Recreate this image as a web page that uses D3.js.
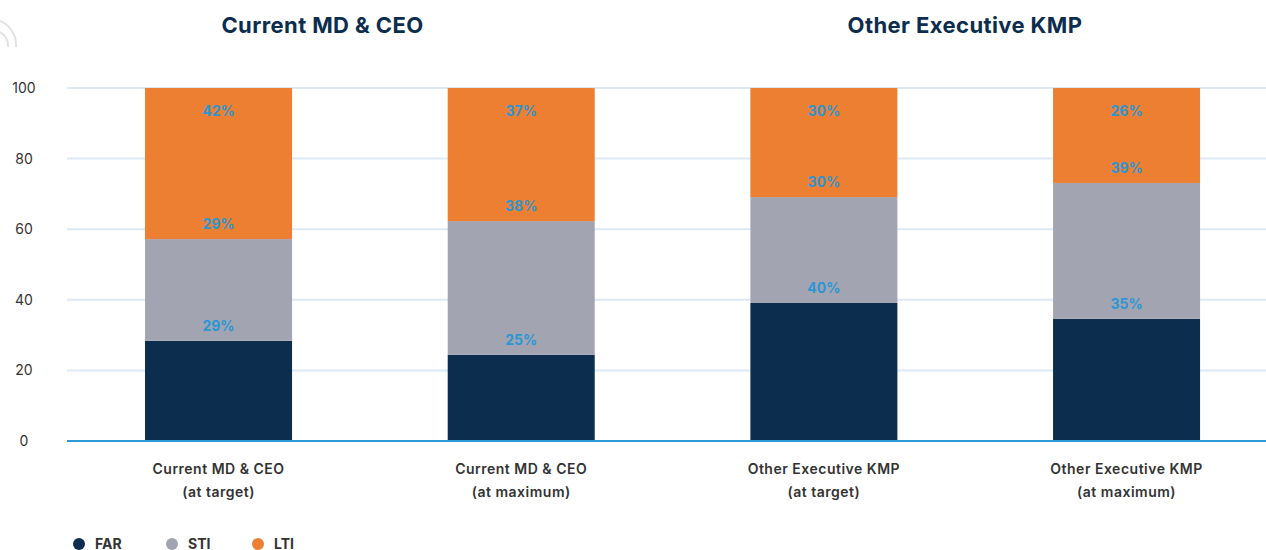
<!DOCTYPE html>
<html><head><meta charset="utf-8">
<script src="https://cdn.jsdelivr.net/npm/d3@7"></script>
<style>body{margin:0;background:#fff;overflow:hidden}svg{display:block}</style>
</head><body>
<svg id="c" width="1266" height="550"></svg>
<script>
const categories = [["Current MD & CEO","(at target)"],["Current MD & CEO","(at maximum)"],["Other Executive KMP","(at target)"],["Other Executive KMP","(at maximum)"]];
const groupTitles = ["Current MD & CEO","Other Executive KMP"];
const seriesNames = ["FAR","STI","LTI"];
const farValues = [28.4, 24.4, 39.1, 34.6];
const stiValues = [28.8, 37.9, 30.0, 38.5];
const ltiValues = [42.8, 37.7, 30.9, 26.9];
const farLabels = ["29%","25%","40%","35%"];
const stiLabels = ["29%","38%","30%","39%"];
const ltiLabels = ["42%","37%","30%","26%"];
const yTicks = [0,20,40,60,80,100];

const colors = {FAR:"#0c2d4e", STI:"#a2a4b1", LTI:"#ec7f31"};
const font = "Inter, Lato, sans-serif";
const svg = d3.select("#c");

const x = d3.scaleBand().domain(d3.range(categories.length)).range([67.2,1277.9]).paddingInner(0.5143).paddingOuter(0.25715);
const y = d3.scaleLinear().domain([0,100]).range([441,88]);

// watermark
svg.append("path").attr("d","M0,21 A26,26 0 0 1 16,47").attr("fill","none").attr("stroke","#e2e2e2").attr("stroke-width",2);
svg.append("path").attr("d","M0,32 A16,16 0 0 1 8,47").attr("fill","none").attr("stroke","#e2e2e2").attr("stroke-width",2);

// grid
svg.append("g").selectAll("line").data(yTicks.filter(d=>d>0)).join("line")
  .attr("x1",67).attr("x2",1266).attr("y1",d=>y(d)).attr("y2",d=>y(d))
  .attr("stroke","#dde9f4").attr("stroke-width",2);

// y tick labels
svg.append("g").selectAll("text").data(yTicks).join("text")
  .attr("x",24).attr("y",d=>y(d)+5).attr("text-anchor","middle")
  .attr("font-family",font).attr("font-size",14).attr("fill","#333").text(d=>d);

// stacks
const rows = categories.map((c,i)=>({i, FAR:farValues[i], STI:stiValues[i], LTI:ltiValues[i]}));
const stack = d3.stack().keys(seriesNames)(rows);
const labelsBy = {FAR:farLabels, STI:stiLabels, LTI:ltiLabels};
stack.forEach(s=>{
  svg.append("g").selectAll("rect").data(s).join("rect")
    .attr("x",d=>x(d.data.i)).attr("width",x.bandwidth())
    .attr("y",d=>y(d[1])).attr("height",d=>y(d[0])-y(d[1]))
    .attr("fill",colors[s.key]);
});
stack.forEach(s=>{
  svg.append("g").selectAll("text").data(s).join("text")
    .attr("x",d=>x(d.data.i)+x.bandwidth()/2)
    .attr("y",d=> s.key==="LTI" ? y(d[1])+28 : y(d[1])-10)
    .attr("text-anchor","middle").attr("font-family",font).attr("font-weight","bold")
    .attr("font-size",14).attr("fill","#2a97d4")
    .text(d=>labelsBy[s.key][d.data.i]);
});

// baseline
svg.append("line").attr("x1",67).attr("x2",1266).attr("y1",y(0)).attr("y2",y(0))
  .attr("stroke","#2d9ad7").attr("stroke-width",2);

// x labels
const xl = svg.append("g").selectAll("text").data(categories).join("text")
  .attr("text-anchor","middle").attr("font-family",font).attr("font-weight",600)
  .attr("font-size",14).attr("letter-spacing",0.5).attr("fill","#333");
xl.each(function(d,i){
  const t=d3.select(this);
  d.forEach((line,j)=>t.append("tspan").attr("x",x(i)+x.bandwidth()/2).attr("y",474+j*23).text(line));
});

// group titles
svg.append("g").selectAll("text").data(groupTitles).join("text")
  .attr("x",(d,i)=>[322.5,965][i]).attr("y",33).attr("text-anchor","middle")
  .attr("font-family",font).attr("font-weight","bold").attr("font-size",22).attr("letter-spacing",0.4)
  .attr("fill","#0c2d4e").text(d=>d);

// legend
const lg = svg.append("g").selectAll("g").data(seriesNames).join("g")
  .attr("transform",(d,i)=>`translate(${[79,172,258][i]},544)`);
lg.append("circle").attr("r",6).attr("fill",d=>colors[d]);
lg.append("text").attr("x",16).attr("y",5).attr("font-family",font).attr("font-weight","bold")
  .attr("font-size",14).attr("fill","#333").text(d=>d);
</script>
</body></html>
